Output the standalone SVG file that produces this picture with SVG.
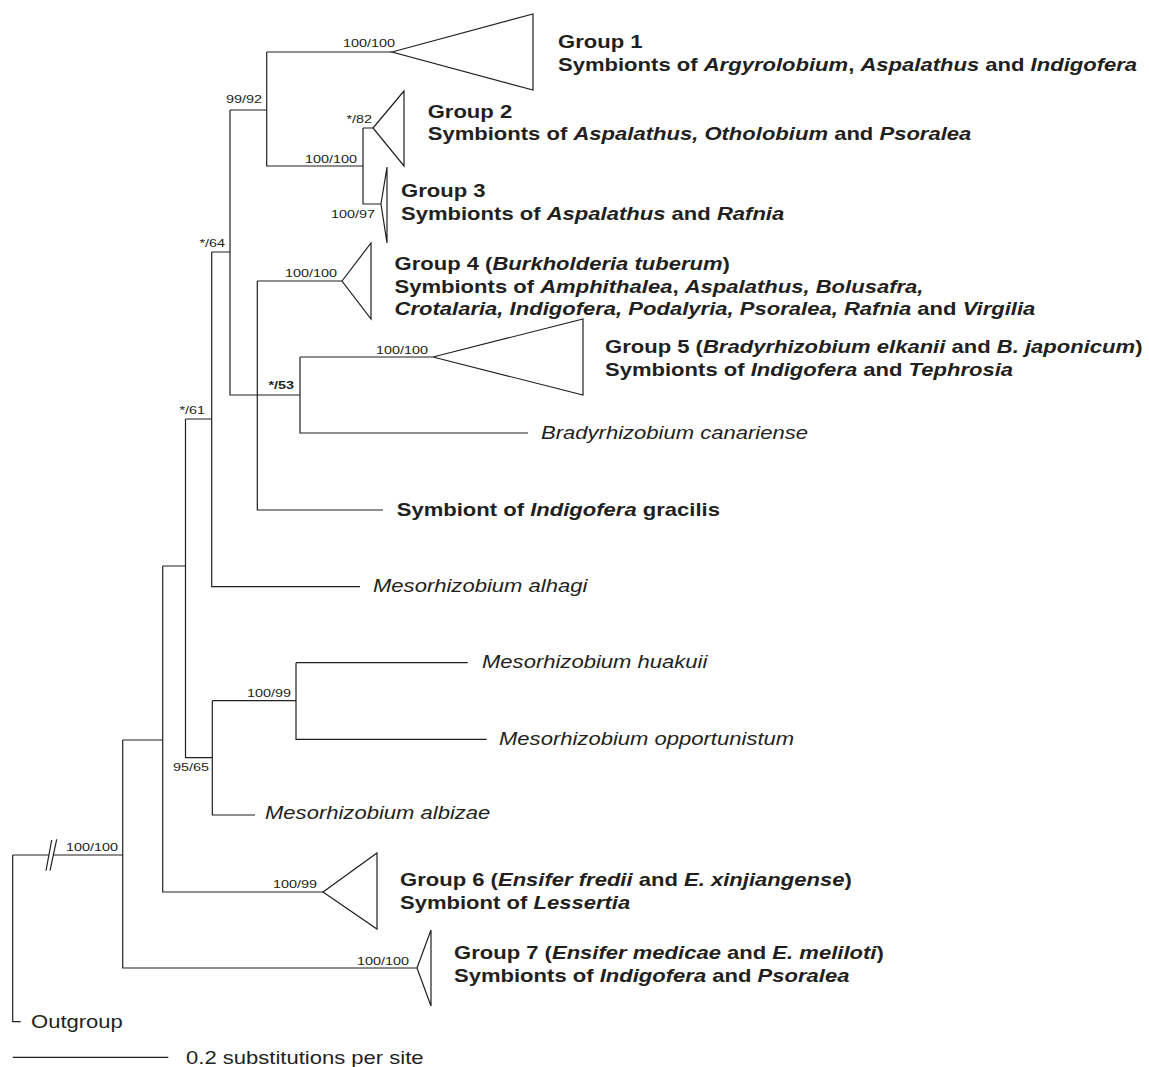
<svg xmlns="http://www.w3.org/2000/svg" width="1149" height="1067" viewBox="0 0 1149 1067">
<style>
.br{stroke:#231f20;stroke-width:1.2;fill:none}
.tri{stroke:#231f20;stroke-width:1.2;fill:none;stroke-linejoin:miter}
text{font-family:"Liberation Sans",Arial,Helvetica,sans-serif;fill:#231f20}
.sup{font-size:11px;text-anchor:end}
.supb{font-size:11px;text-anchor:end;font-weight:bold}
.lab{font-size:17.5px;font-weight:bold}
.sp{font-size:17.5px;font-style:italic}
.reg{font-size:17.5px}
.i{font-style:italic}
</style>
<rect width="1149" height="1067" fill="#ffffff"/>
<g id="connectors">
<path class="br" d="M12.7,855H48.9M53.4,855H122.7M12.7,855V1021.7H20.7M122.7,740V968H417M122.7,740H162.7M162.7,566V892H323M162.7,566H185.5M185.5,419V757.7H212.3M212.3,700.7V815H255M212.3,700.7H296M296,662.7V739.3H486.7M296,662.7H467.7M185.5,419H211.7M211.7,252V586.7H360M211.7,252H230M230,110V395H300M257.3,281V510H383M257.3,281H342M300,357V433H528M300,357H433M230,110H266.7M266.7,52V166H363M266.7,52H392M363,128V204H381M363,128H373"/>
<path class="br" d="M46,870.7L51.7,840M50,870.7L56.7,839.3"/>
<text class="sup" transform="translate(395,47) scale(1.31,1)">100/100</text>
<text class="sup" transform="translate(262,103) scale(1.31,1)">99/92</text>
<text class="sup" transform="translate(372,123) scale(1.31,1)">*/82</text>
<text class="sup" transform="translate(357,163) scale(1.31,1)">100/100</text>
<text class="sup" transform="translate(375,218) scale(1.31,1)">100/97</text>
<text class="sup" transform="translate(225,247) scale(1.31,1)">*/64</text>
<text class="sup" transform="translate(337,277) scale(1.31,1)">100/100</text>
<text class="sup" transform="translate(428,354) scale(1.31,1)">100/100</text>
<text class="supb" transform="translate(294,389) scale(1.31,1)">*/53</text>
<text class="sup" transform="translate(205,414) scale(1.31,1)">*/61</text>
<text class="sup" transform="translate(291,697) scale(1.31,1)">100/99</text>
<text class="sup" transform="translate(209,771) scale(1.31,1)">95/65</text>
<text class="sup" transform="translate(317,888) scale(1.31,1)">100/99</text>
<text class="sup" transform="translate(409,965) scale(1.31,1)">100/100</text>
<text class="sup" transform="translate(118,851) scale(1.31,1)">100/100</text>
</g>
<g id="group1">
<polygon class="tri" points="392,52 533,14 533,90"/>
<text class="lab" transform="translate(558,48) scale(1.26,1)">Group 1</text>
<text class="lab" transform="translate(558,70.5) scale(1.26,1)">Symbionts of <tspan class="i">Argyrolobium</tspan>, <tspan class="i">Aspalathus</tspan> and <tspan class="i">Indigofera</tspan></text>
</g>
<g id="group2">
<polygon class="tri" points="373,128 404,91 404,166"/>
<text class="lab" transform="translate(427.7,118) scale(1.26,1)">Group 2</text>
<text class="lab" transform="translate(427.7,140) scale(1.26,1)">Symbionts of <tspan class="i">Aspalathus, Otholobium</tspan> and <tspan class="i">Psoralea</tspan></text>
</g>
<g id="group3">
<polygon class="tri" points="381,204 387,167 387,243"/>
<text class="lab" transform="translate(401,197) scale(1.26,1)">Group 3</text>
<text class="lab" transform="translate(401,220) scale(1.26,1)">Symbionts of <tspan class="i">Aspalathus</tspan> and <tspan class="i">Rafnia</tspan></text>
</g>
<g id="group4">
<polygon class="tri" points="342,281 371,243 371,319"/>
<text class="lab" transform="translate(394.5,270) scale(1.26,1)">Group 4 (<tspan class="i">Burkholderia tuberum</tspan>)</text>
<text class="lab" transform="translate(394.5,292.7) scale(1.26,1)">Symbionts of <tspan class="i">Amphithalea</tspan>, <tspan class="i">Aspalathus, Bolusafra,</tspan></text>
<text class="lab" transform="translate(394.5,315) scale(1.26,1)"><tspan class="i">Crotalaria, Indigofera, Podalyria, Psoralea, Rafnia</tspan> and <tspan class="i">Virgilia</tspan></text>
</g>
<g id="group5">
<polygon class="tri" points="433,357 583,319 583,395"/>
<text class="lab" transform="translate(605,353) scale(1.26,1)">Group 5 (<tspan class="i">Bradyrhizobium elkanii</tspan> and <tspan class="i">B. japonicum</tspan>)</text>
<text class="lab" transform="translate(605,376) scale(1.26,1)">Symbionts of <tspan class="i">Indigofera</tspan> and <tspan class="i">Tephrosia</tspan></text>
</g>
<g id="b-canariense">
<text class="sp" transform="translate(541,439) scale(1.26,1)">Bradyrhizobium canariense</text>
</g>
<g id="i-gracilis">
<text class="lab" transform="translate(396.7,515.5) scale(1.26,1)">Symbiont of <tspan class="i">Indigofera</tspan> gracilis</text>
</g>
<g id="m-alhagi">
<text class="sp" transform="translate(373,592) scale(1.26,1)">Mesorhizobium alhagi</text>
</g>
<g id="m-huakuii">
<text class="sp" transform="translate(482,668) scale(1.26,1)">Mesorhizobium huakuii</text>
</g>
<g id="m-opportunistum">
<text class="sp" transform="translate(499,745) scale(1.26,1)">Mesorhizobium opportunistum</text>
</g>
<g id="m-albizae">
<text class="sp" transform="translate(265,819) scale(1.26,1)">Mesorhizobium albizae</text>
</g>
<g id="group6">
<polygon class="tri" points="323,892 377,853 377,929"/>
<text class="lab" transform="translate(400,886) scale(1.26,1)">Group 6 (<tspan class="i">Ensifer fredii</tspan> and <tspan class="i">E. xinjiangense</tspan>)</text>
<text class="lab" transform="translate(400,909) scale(1.26,1)">Symbiont of <tspan class="i">Lessertia</tspan></text>
</g>
<g id="group7">
<polygon class="tri" points="417,968 431,930 431,1006"/>
<text class="lab" transform="translate(454,959) scale(1.26,1)">Group 7 (<tspan class="i">Ensifer medicae</tspan> and <tspan class="i">E. meliloti</tspan>)</text>
<text class="lab" transform="translate(454,982) scale(1.26,1)">Symbionts of <tspan class="i">Indigofera</tspan> and <tspan class="i">Psoralea</tspan></text>
</g>
<g id="outgroup">
<text class="reg" transform="translate(31,1028) scale(1.26,1)">Outgroup</text>
</g>
<g id="scale-bar">
<path class="br" d="M12.7,1057.3H168.3"/>
<text class="reg" transform="translate(186,1064) scale(1.26,1)">0.2 substitutions per site</text>
</g>
</svg>
